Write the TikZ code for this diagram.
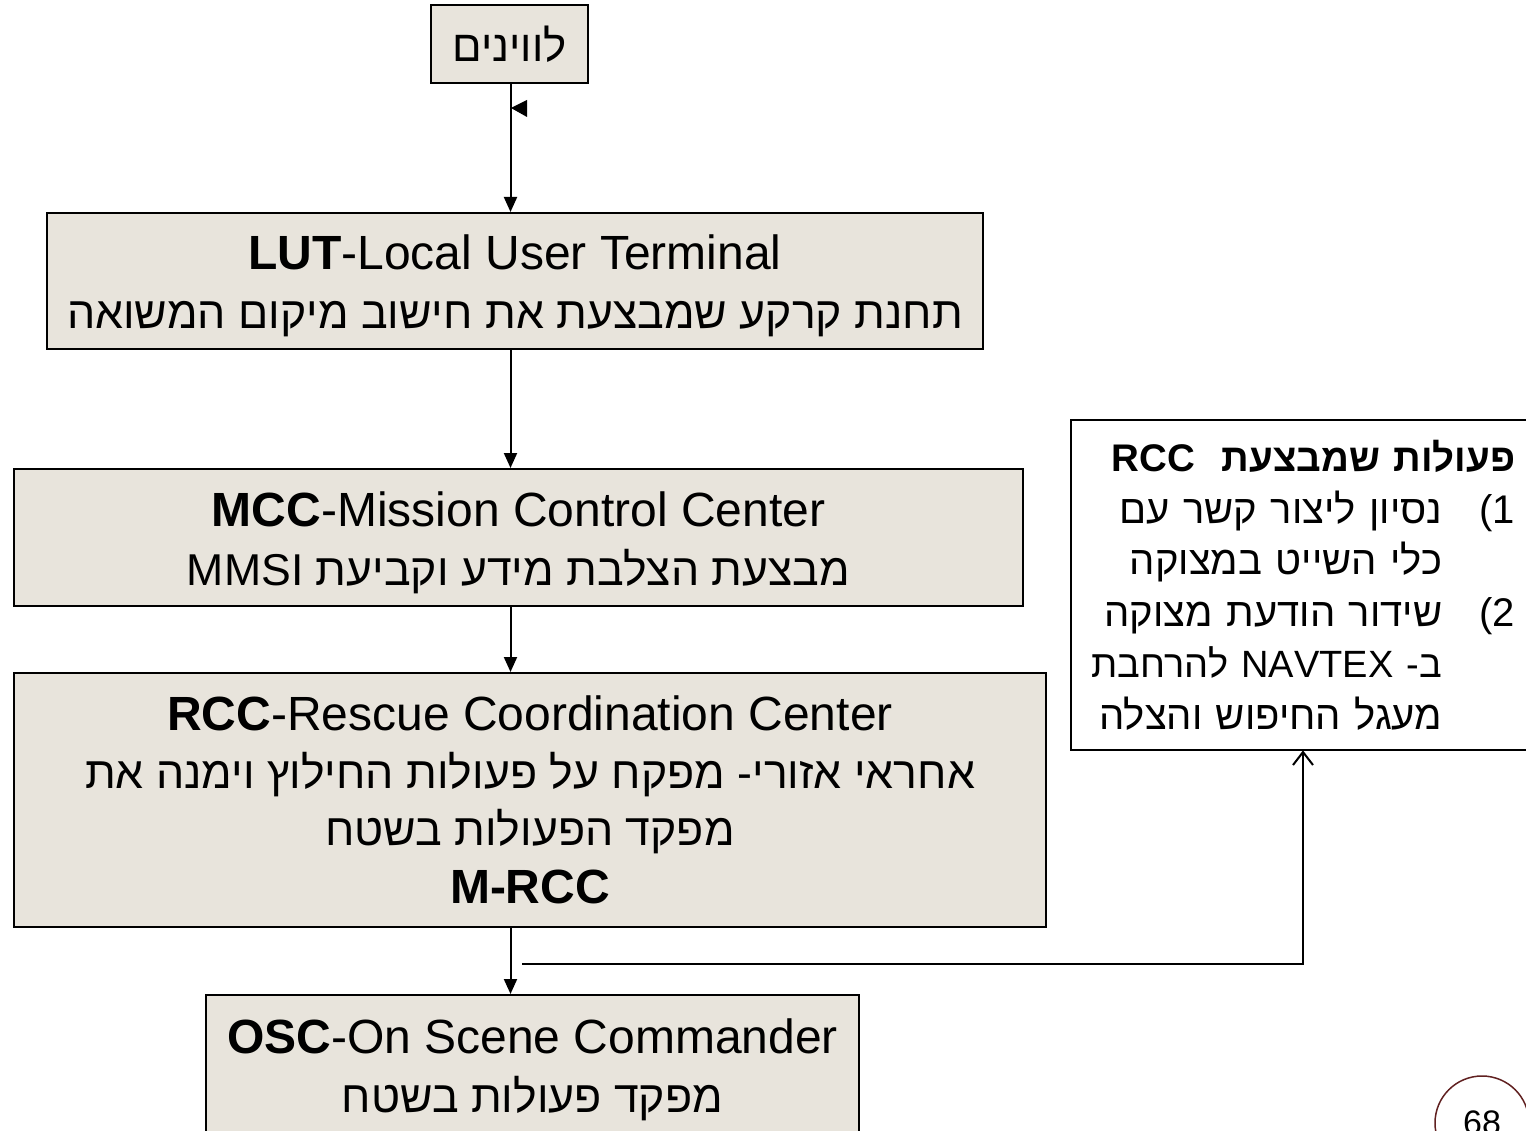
\documentclass[tikz,border=0pt]{standalone}
\usepackage{fontspec}
\setmainfont{Liberation Sans}
\newfontfamily\heb[Script=Hebrew]{Liberation Sans}
\TeXXeTstate=1
\usetikzlibrary{arrows.meta,calc}
\definecolor{boxfill}{RGB}{232,228,220}
\definecolor{pagecirc}{RGB}{96,32,32}
\newcommand\HR[1]{{\heb\fontsize{44.6}{59}\selectfont\beginR #1\endR}}
\newcommand\HS[1]{{\heb\beginR #1\endR}}
\newcommand\numtag[1]{\makebox[73pt][r]{(#1}}
\newcommand\notag{\makebox[73pt]{}}
\newcommand\uplift{\rule{0pt}{45pt}}
\begin{document}
\begin{tikzpicture}[x=1pt,y=-1pt,
  box/.style={draw=black,line width=2pt,fill=boxfill,inner sep=0pt,align=center,font=\fontsize{48}{59}\selectfont},
  conn/.style={line width=2pt,-{Triangle[length=15pt,width=13pt]}},
  barb/.style={line width=2pt,-{Straight Barb[length=13pt,width=20pt,line width=2pt]}},
]
\useasboundingbox (0,0) rectangle (1526,1131);
\clip (0,0) rectangle (1526,1131);
\coordinate (spine) at (510.5,0);

\node[box,minimum width=157pt,minimum height=78pt] (sat) at (509.5,44) {{\heb\fontsize{43.7}{50}\selectfont\beginR לווינים\endR}};

\node[box,minimum width=936pt,minimum height=136pt] (lut) at (515,281)
  {\uplift\textbf{LUT}-Local User Terminal\\ \HR{תחנת קרקע שמבצעת את חישוב מיקום המשואה}};

\node[box,minimum width=1009pt,minimum height=137pt] (mcc) at (518.5,537.5)
  {\uplift\textbf{MCC}-Mission Control Center\\ \HR{מבצעת הצלבת מידע וקביעת \beginL MMSI\endL}};

\node[box,minimum width=1032pt,minimum height=254pt,font=\fontsize{48}{57.5}\selectfont] (rcc) at (530,800)
  {\textbf{RCC}-Rescue Coordination Center\\ \HR{אחראי אזורי- מפקח על פעולות החילוץ וימנה את}\\ \HR{מפקד הפעולות בשטח}\\ \textbf{M-RCC}};

\node[box,minimum width=653pt,minimum height=150pt] (osc) at (532.5,1070)
  {\textbf{OSC}-On Scene Commander\\ \HR{מפקד פעולות בשטח}};

\node[font=\fontsize{40}{51.5}\selectfont,text width=444pt,align=right,inner xsep=0pt,inner ysep=0pt,minimum height=330pt,anchor=north west] (rbox) at (1071,420)
  {{\fontsize{38.5}{51.5}\selectfont\bfseries\HS{פעולות שמבצעת\ \ \beginL RCC\endL}}\\
   \HS{נסיון ליצור קשר עם}\numtag{1}\\
   \HS{כלי השייט במצוקה}\notag\\
   \HS{שידור הודעת מצוקה}\numtag{2}\\
   {\fontsize{38}{51.5}\selectfont\HS{ב- \beginL NAVTEX\endL{} להרחבת}}\notag\\
   \HS{מעגל החיפוש והצלה}\notag};
\draw[line width=2pt] (rbox.south west) rectangle ($(rbox.north east)+(40,0)$);

\draw[conn] (sat.south -| spine) -- (lut.north -| spine);
\fill (511,108) -- (527,100) -- (527,117) -- cycle;
\draw[conn] (lut.south -| spine) -- (mcc.north -| spine);
\draw[conn] (mcc.south -| spine) -- (rcc.north -| spine);
\draw[conn] (rcc.south -| spine) -- (osc.north -| spine);

\coordinate (c0) at (522,964);
\draw[barb] (c0) -| ($(rbox.south west)+(232,0)$);

\node[draw=pagecirc,line width=1.5pt,circle,minimum size=94pt,inner sep=0pt,font=\fontsize{34}{40}\selectfont] (pg) at (1482,1123) {68};
\end{tikzpicture}
\end{document}
